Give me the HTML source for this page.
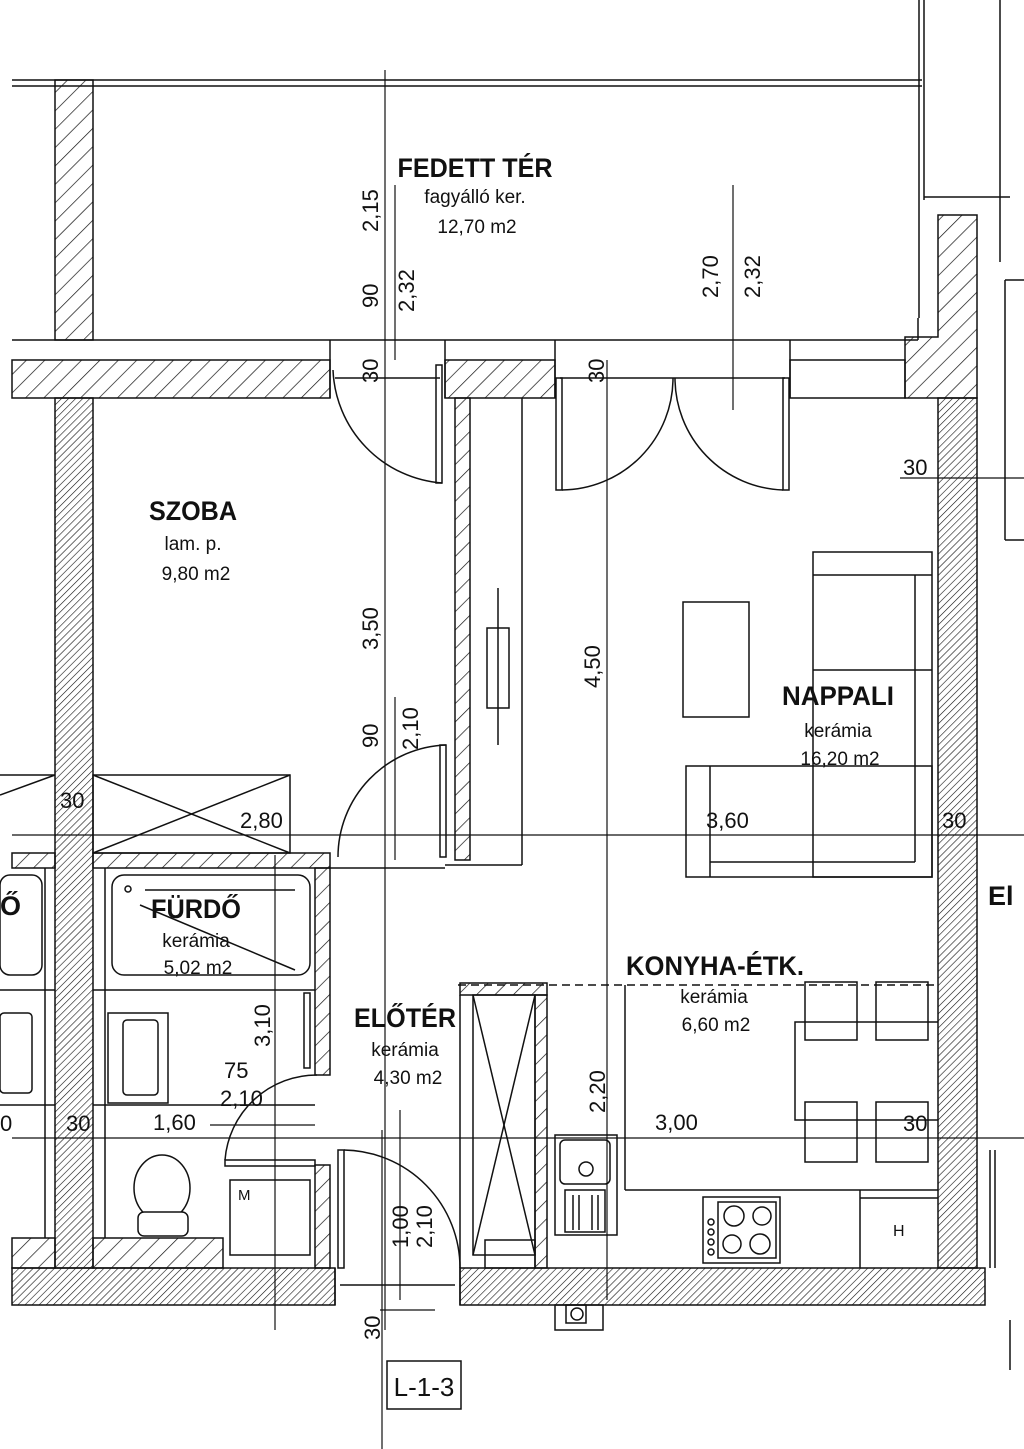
<!DOCTYPE html>
<html><head><meta charset="utf-8"><style>
html,body{margin:0;padding:0;background:#fff;}
svg{display:block;}
text{font-family:"Liberation Sans",sans-serif;fill:#111;stroke:none;}
.b{font-weight:bold;font-size:27px;}
.n{font-size:19px;}
.d{font-size:22px;}
</style></head><body>
<svg width="1024" height="1449" viewBox="0 0 1024 1449" xmlns="http://www.w3.org/2000/svg" stroke="#111" fill="none" stroke-width="1.5">
<defs>
<pattern id="hc" width="13" height="13" patternUnits="userSpaceOnUse" patternTransform="rotate(45)"><line x1="0" y1="0" x2="0" y2="13" stroke="#111" stroke-width="1.4"/></pattern>
<pattern id="hf" width="5" height="5" patternUnits="userSpaceOnUse" patternTransform="rotate(45)"><line x1="0" y1="0" x2="0" y2="5" stroke="#111" stroke-width="1.2"/></pattern>
</defs>

<!-- balcony -->
<line x1="12" y1="80" x2="922" y2="80"/><line x1="12" y1="86" x2="922" y2="86"/>
<rect x="55" y="80" width="38" height="260" fill="url(#hc)"/>
<line x1="919" y1="0" x2="919" y2="318"/><line x1="924" y1="0" x2="924" y2="200"/>
<line x1="12" y1="340" x2="918" y2="340"/>
<line x1="918" y1="318" x2="918" y2="340"/>
<line x1="924" y1="197" x2="1010" y2="197"/>
<line x1="1000" y1="0" x2="1000" y2="262"/>
<!-- top wall -->
<rect x="12" y="360" width="318" height="38" fill="url(#hc)"/>
<rect x="445" y="360" width="110" height="38" fill="url(#hc)"/>
<path d="M905 337 L938 337 L938 215 L977 215 L977 398 L905 398 Z" fill="url(#hc)"/>
<rect x="790" y="360" width="115" height="38" fill="none"/>
<line x1="330" y1="340" x2="330" y2="398"/><line x1="445" y1="340" x2="445" y2="398"/>
<line x1="555" y1="340" x2="555" y2="398"/><line x1="790" y1="340" x2="790" y2="398"/>
<line x1="335" y1="378" x2="440" y2="378"/><line x1="560" y1="378" x2="785" y2="378"/>
<!-- outer walls -->
<rect x="55" y="398" width="38" height="870" fill="url(#hf)"/>
<rect x="938" y="398" width="39" height="870" fill="url(#hf)"/>
<rect x="12" y="1268" width="323" height="37" fill="url(#hf)"/>
<rect x="460" y="1268" width="525" height="37" fill="url(#hf)"/>
<line x1="335" y1="1268" x2="335" y2="1305"/><line x1="460" y1="1268" x2="460" y2="1305"/>
<line x1="340" y1="1285" x2="455" y2="1285"/>
<!-- interior partition -->
<rect x="455" y="398" width="15" height="462" fill="url(#hc)"/>
<line x1="522" y1="398" x2="522" y2="865"/><line x1="445" y1="865" x2="522" y2="865"/>
<rect x="93" y="853" width="237" height="15" fill="url(#hc)"/>
<rect x="315" y="868" width="15" height="207" fill="url(#hc)"/>
<rect x="315" y="1165" width="15" height="103" fill="url(#hc)"/>
<line x1="330" y1="868" x2="445" y2="868"/>
<!-- doors -->
<rect x="436" y="365" width="6" height="118"/>
<path d="M442 483 A118 118 0 0 1 333 370"/>
<rect x="556" y="378" width="6" height="112"/>
<path d="M562 490 A112 112 0 0 0 673 378"/>
<rect x="783" y="378" width="6" height="112"/>
<path d="M783 490 A112 112 0 0 1 675 378"/>
<rect x="440" y="745" width="6" height="112"/>
<path d="M446 745 A112 112 0 0 0 338 857"/>
<rect x="225" y="1160" width="90" height="6"/>
<path d="M225 1160 A92 92 0 0 1 317 1075"/>
<rect x="338" y="1150" width="6" height="118"/>
<path d="M344 1150 A118 118 0 0 1 460 1268"/>
<!-- wardrobe top-left X -->
<rect x="93" y="775" width="197" height="78"/>
<line x1="93" y1="775" x2="290" y2="853"/><line x1="93" y1="853" x2="290" y2="775"/>
<line x1="0" y1="775" x2="55" y2="775"/><line x1="0" y1="795" x2="55" y2="775"/>
<!-- bath -->
<rect x="112" y="875" width="198" height="100" rx="12"/>
<line x1="145" y1="890" x2="295" y2="890"/><circle cx="128" cy="889" r="3"/>
<line x1="140" y1="905" x2="295" y2="970"/>
<line x1="93" y1="990" x2="315" y2="990"/>
<rect x="108" y="1013" width="60" height="90"/><rect x="123" y="1020" width="35" height="75" rx="4"/>
<line x1="93" y1="1105" x2="315" y2="1105"/>
<line x1="105" y1="868" x2="105" y2="1238"/>
<rect x="304" y="993" width="6" height="75"/>
<ellipse cx="162" cy="1188" rx="28" ry="33" fill="#fff"/>
<rect x="138" y="1212" width="50" height="24" rx="6" fill="#fff"/>
<rect x="93" y="1238" width="130" height="30" fill="url(#hc)"/>
<rect x="230" y="1180" width="80" height="75"/>
<text x="238" y="1200" style="font-size:15px">M</text>
<!-- left neighbor -->
<rect x="12" y="853" width="43" height="15" fill="url(#hc)"/>
<rect x="0" y="875" width="42" height="100" rx="10"/>
<line x1="0" y1="990" x2="55" y2="990"/><line x1="0" y1="1105" x2="55" y2="1105"/>
<rect x="0" y="1013" width="32" height="80" rx="4"/>
<rect x="12" y="1238" width="43" height="30" fill="url(#hc)"/>
<line x1="45" y1="868" x2="45" y2="1238"/>
<!-- wardrobe hall -->
<rect x="460" y="983" width="87" height="12" fill="url(#hc)"/>
<rect x="535" y="995" width="12" height="273" fill="url(#hc)"/>
<rect x="473" y="995" width="62" height="260"/>
<line x1="473" y1="995" x2="535" y2="1255"/><line x1="535" y1="995" x2="473" y2="1255"/>
<line x1="460" y1="995" x2="460" y2="1268"/>
<rect x="485" y="1240" width="50" height="28"/>
<!-- kitchen -->
<line x1="625" y1="985" x2="625" y2="1190"/>
<line x1="625" y1="1190" x2="938" y2="1190"/>
<line x1="458" y1="985" x2="938" y2="985" stroke-dasharray="8 5"/>
<line x1="860" y1="1190" x2="860" y2="1268"/><line x1="860" y1="1198" x2="938" y2="1198"/>
<text x="893" y="1236" style="font-size:16px">H</text>
<rect x="703" y="1197" width="77" height="66"/><rect x="718" y="1202" width="58" height="56"/>
<circle cx="734" cy="1216" r="10"/><circle cx="762" cy="1216" r="9"/><circle cx="732" cy="1244" r="9"/><circle cx="760" cy="1244" r="10"/>
<circle cx="711" cy="1222" r="3"/><circle cx="711" cy="1232" r="3"/><circle cx="711" cy="1242" r="3"/><circle cx="711" cy="1252" r="3"/>
<rect x="555" y="1135" width="62" height="100"/><rect x="560" y="1140" width="50" height="44" rx="5"/><circle cx="586" cy="1169" r="7"/>
<rect x="565" y="1190" width="40" height="42"/>
<line x1="573" y1="1195" x2="573" y2="1230"/><line x1="579" y1="1195" x2="579" y2="1230"/><line x1="592" y1="1195" x2="592" y2="1230"/><line x1="598" y1="1195" x2="598" y2="1230"/>
<rect x="555" y="1305" width="48" height="25"/><rect x="566" y="1305" width="20" height="18"/><circle cx="577" cy="1314" r="6"/>
<!-- dining -->
<path d="M938 1022 L795 1022 L795 1120 L938 1120"/>
<rect x="805" y="982" width="52" height="58"/><rect x="876" y="982" width="52" height="58"/>
<rect x="805" y="1102" width="52" height="60"/><rect x="876" y="1102" width="52" height="60"/>
<!-- sofa & table -->
<rect x="683" y="602" width="66" height="115"/>
<rect x="813" y="552" width="119" height="325"/>
<line x1="813" y1="575" x2="932" y2="575"/><line x1="915" y1="575" x2="915" y2="862"/>
<line x1="813" y1="670" x2="932" y2="670"/>
<rect x="686" y="766" width="246" height="111"/>
<line x1="710" y1="766" x2="710" y2="877"/><line x1="710" y1="862" x2="915" y2="862"/>
<!-- shelf right of partition -->
<rect x="487" y="628" width="22" height="80"/><line x1="498" y1="588" x2="498" y2="745"/>
<!-- right neighbor -->
<line x1="1005" y1="280" x2="1005" y2="540"/><line x1="1005" y1="280" x2="1024" y2="280"/><line x1="1005" y1="540" x2="1024" y2="540"/>
<line x1="990" y1="1150" x2="990" y2="1268"/><line x1="995" y1="1150" x2="995" y2="1268"/>
<line x1="1010" y1="1320" x2="1010" y2="1370"/>
<!-- dimension lines -->
<g stroke-width="1.2">
<line x1="385" y1="70" x2="385" y2="1330"/>
<line x1="395" y1="185" x2="395" y2="360"/>
<line x1="395" y1="697" x2="395" y2="860"/>
<line x1="607" y1="360" x2="607" y2="1300"/>
<line x1="733" y1="185" x2="733" y2="410"/>
<line x1="275" y1="855" x2="275" y2="1330"/>
<line x1="382" y1="1130" x2="382" y2="1449"/>
<line x1="400" y1="1110" x2="400" y2="1300"/>
<line x1="12" y1="835" x2="1024" y2="835"/>
<line x1="12" y1="1138" x2="1024" y2="1138"/>
<line x1="900" y1="478" x2="1024" y2="478"/>
<line x1="210" y1="1125" x2="315" y2="1125"/>
<line x1="380" y1="1310" x2="435" y2="1310"/>
</g>
<!-- labels -->
<text class="b" x="475" y="177" text-anchor="middle" textLength="155" lengthAdjust="spacingAndGlyphs">FEDETT TÉR</text>
<text class="n" x="475" y="203" text-anchor="middle">fagyálló ker.</text>
<text class="n" x="477" y="233" text-anchor="middle">12,70 m2</text>
<text class="b" x="193" y="520" text-anchor="middle" textLength="88" lengthAdjust="spacingAndGlyphs">SZOBA</text>
<text class="n" x="193" y="550" text-anchor="middle">lam. p.</text>
<text class="n" x="196" y="580" text-anchor="middle">9,80 m2</text>
<text class="b" x="838" y="705" text-anchor="middle" textLength="112" lengthAdjust="spacingAndGlyphs">NAPPALI</text>
<text class="n" x="838" y="737" text-anchor="middle">kerámia</text>
<text class="n" x="840" y="765" text-anchor="middle">16,20 m2</text>
<text class="b" x="196" y="918" text-anchor="middle" textLength="90" lengthAdjust="spacingAndGlyphs">FÜRDŐ</text>
<text class="n" x="196" y="947" text-anchor="middle">kerámia</text>
<text class="n" x="198" y="974" text-anchor="middle">5,02 m2</text>
<text class="b" x="405" y="1027" text-anchor="middle" textLength="102" lengthAdjust="spacingAndGlyphs">ELŐTÉR</text>
<text class="n" x="405" y="1056" text-anchor="middle">kerámia</text>
<text class="n" x="408" y="1084" text-anchor="middle">4,30 m2</text>
<text class="b" x="715" y="975" text-anchor="middle" textLength="178" lengthAdjust="spacingAndGlyphs">KONYHA-ÉTK.</text>
<text class="n" x="714" y="1003" text-anchor="middle">kerámia</text>
<text class="n" x="716" y="1031" text-anchor="middle">6,60 m2</text>
<text class="b" x="988" y="905">El</text>
<text class="b" x="0" y="915">Ő</text>
<!-- dimension numbers -->
<g>
<text class="d" transform="translate(378,232) rotate(-90)">2,15</text>
<text class="d" transform="translate(378,308) rotate(-90)">90</text>
<text class="d" transform="translate(414,312) rotate(-90)">2,32</text>
<text class="d" transform="translate(378,383) rotate(-90)">30</text>
<text class="d" transform="translate(604,383) rotate(-90)">30</text>
<text class="d" transform="translate(718,298) rotate(-90)">2,70</text>
<text class="d" transform="translate(760,298) rotate(-90)">2,32</text>
<text class="d" transform="translate(378,650) rotate(-90)">3,50</text>
<text class="d" transform="translate(378,748) rotate(-90)">90</text>
<text class="d" transform="translate(418,750) rotate(-90)">2,10</text>
<text class="d" transform="translate(600,688) rotate(-90)">4,50</text>
<text class="d" transform="translate(270,1047) rotate(-90)">3,10</text>
<text class="d" transform="translate(605,1113) rotate(-90)">2,20</text>
<text class="d" transform="translate(408,1248) rotate(-90)">1,00</text>
<text class="d" transform="translate(432,1248) rotate(-90)">2,10</text>
<text class="d" transform="translate(380,1340) rotate(-90)">30</text>
<text class="d" x="903" y="475">30</text>
<text class="d" x="60" y="808">30</text>
<text class="d" x="240" y="828">2,80</text>
<text class="d" x="706" y="828">3,60</text>
<text class="d" x="942" y="828">30</text>
<text class="d" x="224" y="1078">75</text>
<text class="d" x="220" y="1106">2,10</text>
<text class="d" x="153" y="1130">1,60</text>
<text class="d" x="66" y="1131">30</text>
<text class="d" x="655" y="1130">3,00</text>
<text class="d" x="903" y="1131">30</text>
<text class="d" x="0" y="1131">0</text>
</g>
<rect x="387" y="1361" width="74" height="48"/>
<text x="424" y="1396" text-anchor="middle" style="font-size:26px">L-1-3</text>
</svg>
</body></html>
